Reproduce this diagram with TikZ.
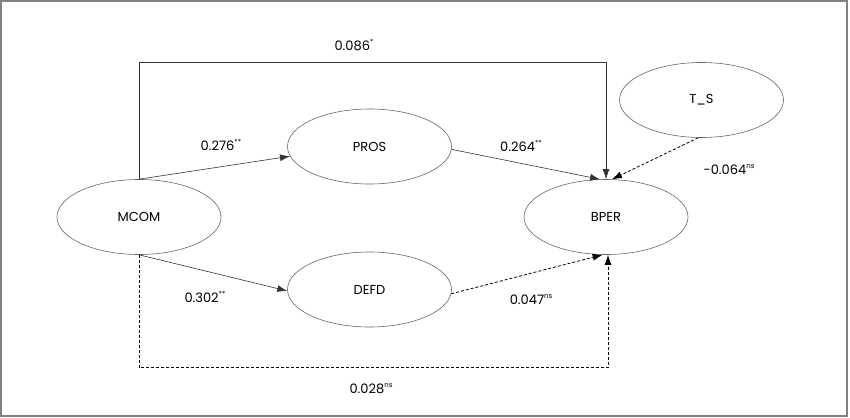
\documentclass[tikz,border=0pt]{standalone}
\usepackage{fontspec}
\setmainfont{Poppins}
\usetikzlibrary{shapes.geometric,arrows.meta,calc}
\newcommand{\supmark}[1]{\raisebox{0.45em}{\fontsize{7}{8}\selectfont #1}}
\begin{document}
\begin{tikzpicture}[x=1pt,y=-1pt,
  latent/.style={ellipse,draw=black!60,line width=0.6pt,minimum width=164pt,minimum height=75pt,inner sep=0pt,font=\fontsize{13}{15}\selectfont},
  sigpath/.style={draw=black!80,line width=0.6pt,-{Latex[length=10pt,width=7pt]}},
  nspath/.style={sigpath,draw=black,line width=0.8pt,dash pattern=on 3pt off 2pt},
  coef/.style={font=\fontsize{13}{15}\selectfont,inner sep=0pt}]
\useasboundingbox (0,0) rectangle (850,417);
\draw[black!50,line width=1.5pt] (1,1) rectangle (847,416);
\node[latent] (MCOM) at (139,217) {MCOM};
\node[latent] (PROS) at (369.5,146.5) {PROS};
\node[latent] (DEFD) at (369.5,289.5) {DEFD};
\node[latent] (BPER) at (606,217) {BPER};
\node[latent] (TS) at (701.5,100) {T\_S};
\draw[sigpath] (MCOM.north) -- ++(0,-117) -| (BPER.north);
\draw[sigpath] (MCOM.north) -- (PROS.187);
\draw[sigpath] (PROS.-2) -- (BPER.99);
\draw[nspath] (TS.265) -- (BPER.81);
\draw[sigpath] (MCOM.south) -- (DEFD.181);
\draw[nspath] (DEFD.-3) -- (BPER.-95);
\draw[nspath] (MCOM.south) -- ++(0,113) -| ($(BPER.south)+(2,0)$);
\node[coef] (c1) at (354,45) {0.086\supmark{*}};
\node[coef] (c2) at (221,145) {0.276\supmark{**}};
\node[coef] (c3) at (521,146) {0.264\supmark{**}};
\node[coef] (c4) at (729,170) {-0.064\supmark{ns}};
\node[coef] (c5) at (205,297) {0.302\supmark{**}};
\node[coef] (c6) at (531,300) {0.047\supmark{ns}};
\node[coef] (c7) at (371,389) {0.028\supmark{ns}};
\end{tikzpicture}
\end{document}
